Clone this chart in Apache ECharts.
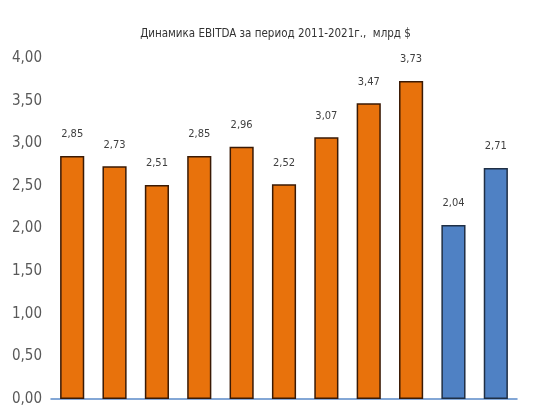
<!DOCTYPE html>
<html><head><meta charset="utf-8">
<script src="https://cdn.jsdelivr.net/npm/echarts@6/dist/echarts.min.js"></script>
<style>html,body{margin:0;padding:0;background:#fff}#c{width:551px;height:414px}</style>
</head><body><div id="c"></div>
<script>
var categories = ['2011','2012','2013','2014','2015','2016','2017','2018','2019','2020','2021'];
var values = [2.85, 2.73, 2.51, 2.85, 2.96, 2.52, 3.07, 3.47, 3.73, 2.04, 2.71];
var yTicks = [0, 0.5, 1, 1.5, 2, 2.5, 3, 3.5, 4];
var FONT = '"DejaVu Sans Condensed", "Liberation Sans Narrow", sans-serif';
var chart = echarts.init(document.getElementById('c'));
function fmt(v){ return v.toFixed(2).replace('.', ','); }
chart.setOption({
  animation: false,
  title: {
    text: 'Динамика EBITDA за период 2011-2021г.,  млрд $',
    left: 'center', top: 23,
    textStyle: { fontFamily: FONT, fontSize: 11.5, fontWeight: 'normal', color: '#333333' }
  },
  grid: { left: 51, right: 34, top: 58, bottom: 15 },
  xAxis: {
    type: 'category', data: categories,
    axisLine: { lineStyle: { color: '#5b8ac9', width: 1.5 } },
    axisTick: { show: false }, axisLabel: { show: false }
  },
  yAxis: {
    type: 'value', min: yTicks[0], max: yTicks[yTicks.length-1], interval: 0.5,
    axisLine: { show: false }, axisTick: { show: false }, splitLine: { show: false },
    axisLabel: { formatter: fmt, fontFamily: FONT, fontSize: 15, color: '#595959', margin: 9 }
  },
  series: [{
    type: 'bar', barCategoryGap: '43%',
    data: values.map(function(v, i){
      var blue = i >= 9;
      return { value: v, itemStyle: {
        color: blue ? '#4f81c4' : '#e8720c',
        borderColor: blue ? '#1f2f45' : '#3a1a05', borderWidth: 1.5 } };
    }),
    label: { show: true, position: 'top', distance: 16, formatter: function(p){ return fmt(p.value); },
      fontFamily: FONT, fontSize: 11, color: '#404040' }
  }]
});
</script></body></html>
